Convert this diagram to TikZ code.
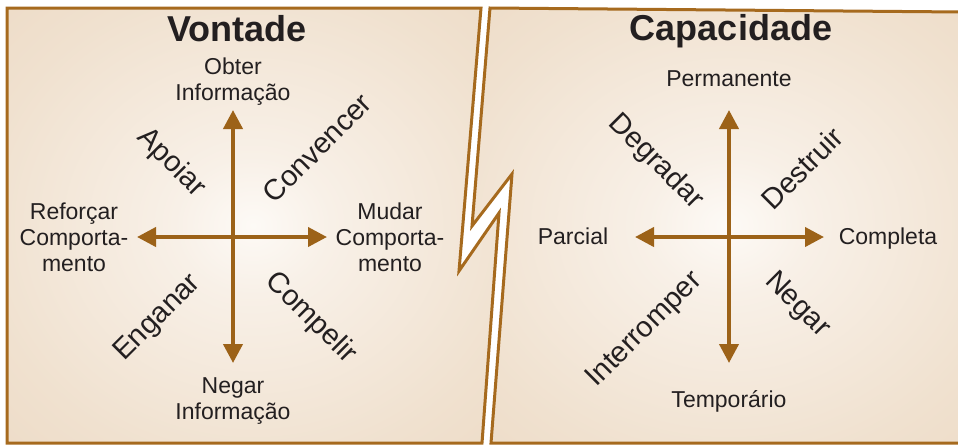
\documentclass[tikz,border=0pt]{standalone}
\usepackage{fontspec}
\setmainfont{Liberation Sans}
\usetikzlibrary{arrows.meta}

\definecolor{panelrim}{RGB}{166,106,30}
\definecolor{axisbrown}{RGB}{156,98,24}
\definecolor{inktext}{RGB}{35,31,32}
\definecolor{glowA}{RGB}{253,250,246}
\definecolor{glowB}{RGB}{248,240,231}
\definecolor{glowC}{RGB}{240,225,207}
\definecolor{glowD}{RGB}{233,212,188}
\definecolor{glowE}{RGB}{225,196,164}
\pgfdeclareradialshading{panelglow}{\pgfpoint{0bp}{0bp}}{color(0bp)=(glowA); color(8bp)=(glowB); color(28bp)=(glowC); color(50bp)=(glowD); color(72bp)=(glowE)}

\begin{document}
\begin{tikzpicture}[
		x=1pt, y=-1pt,
		panel/.style={draw=panelrim, line width=3pt, line join=miter, shading=panelglow},
		axis/.style={-{Triangle[length=19pt, width=19pt]}, line width=4pt, draw=axisbrown},
		title/.style={font=\fontsize{36}{40}\selectfont\bfseries, text=inktext, inner sep=0pt},
		pole/.style={font=\fontsize{23}{26}\selectfont, text=inktext, align=center, inner sep=0pt},
		verb/.style={font=\fontsize{29}{34}\selectfont, text=inktext, inner sep=0pt}
		]
		\useasboundingbox (0,0) rectangle (958,445);
		
		% Panels with the broken edge
		\shadedraw[panel] (7,8) -- (481,8) -- (459,271) -- (499,213) -- (482,443) -- (7,443) -- cycle;
		\shadedraw[panel] (490,8) -- (985,12.2) -- (985,443) -- (491,443) -- (512,174) -- (472,226) -- cycle;
		
		% Titles
		\node[title, anchor=base] (vontade) at (237,41) {Vontade};
		\node[title, anchor=base] (capacidade) at (731,40) {Capacidade};
		
		% Vontade axes
		\coordinate (vc) at (233,237);
		\coordinate (vN) at (233,110);
		\coordinate (vS) at (233,363);
		\coordinate (vW) at (137,237);
		\coordinate (vE) at (327,237);
		\draw[axis] (vc) -- (vN);
		\draw[axis] (vc) -- (vS);
		\draw[axis] (vc) -- (vW);
		\draw[axis] (vc) -- (vE);
		
		\node[pole] (obter) at (233,82) {Obter\\Informação};
		\node[pole] (negarinf) at (233,401) {Negar\\Informação};
		\node[pole] (reforcar) at (74,237) {Reforçar\\Comporta-\\mento};
		\node[pole] (mudar) at (390,237) {Mudar\\Comporta-\\mento};
		
		\node[verb, rotate=-45] (apoiar) at (171,163) {Apoiar};
		\node[verb, rotate=45] (convencer) at (317,148) {Convencer};
		\node[verb, rotate=45] (enganar) at (158,318) {Enganar};
		\node[verb, rotate=-45] (compelir) at (311,318) {Compelir};
		
		% Capacidade axes
		\coordinate (cc) at (729,237);
		\coordinate (cN) at (729,110);
		\coordinate (cS) at (729,363);
		\coordinate (cW) at (635,237);
		\coordinate (cE) at (824,237);
		\draw[axis] (cc) -- (cN);
		\draw[axis] (cc) -- (cS);
		\draw[axis] (cc) -- (cW);
		\draw[axis] (cc) -- (cE);
		
		\node[pole, anchor=base] (permanente) at (729,86) {Permanente};
		\node[pole, anchor=base] (temporario) at (729,407) {Temporário};
		\node[pole, anchor=base] (parcial) at (573,244) {Parcial};
		\node[pole, anchor=base] (completa) at (888,244) {Completa};
		
		\node[verb, rotate=-45] (degradar) at (656,162) {Degradar};
		\node[verb, rotate=45] (destruir) at (802,168) {Destruir};
		\node[verb, rotate=45] (interromper) at (645,330) {Interromper};
		\node[verb, rotate=-45] (negar) at (797,305) {Negar};
		
	\end{tikzpicture}
\end{document}
